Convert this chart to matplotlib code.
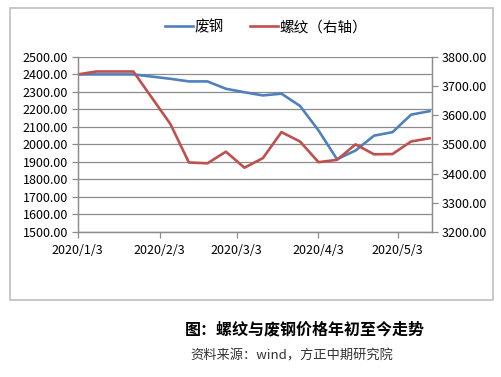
import numpy as np
import pandas as pd
import matplotlib
matplotlib.use("Agg")
import matplotlib.pyplot as plt
from matplotlib.patches import Rectangle

plt.rcParams['font.family'] = ['Noto Sans CJK SC', 'DejaVu Sans']

# weekly data (no point on 2020/1/31, holiday gap)
dates = ['2020-01-03', '2020-01-10', '2020-01-17', '2020-01-24', '2020-02-07',
         '2020-02-14', '2020-02-21', '2020-02-28', '2020-03-06', '2020-03-13',
         '2020-03-20', '2020-03-27', '2020-04-03', '2020-04-10', '2020-04-17',
         '2020-04-24', '2020-05-01', '2020-05-08', '2020-05-15']
scrap = [2400, 2400, 2400, 2400, 2375, 2360, 2360, 2318, 2298, 2280,
         2290, 2220, 2080, 1915, 1965, 2050, 2070, 2170, 2190]
rebar = [3740, 3750, 3750, 3750, 3570, 3438, 3435, 3475, 3420, 3453,
         3542, 3510, 3439, 3447, 3500, 3466, 3467, 3510, 3521]

tick_dates = ['2020-01-03', '2020-02-03', '2020-03-03', '2020-04-03', '2020-05-03']
tick_labels = ['2020/1/3', '2020/2/3', '2020/3/3', '2020/4/3', '2020/5/3']

x = pd.to_datetime(dates)
blue = '#4F81BD'
red = '#C0504D'
grey = '#8C8C8C'

fig = plt.figure(figsize=(5.02, 3.77), dpi=100)
fig.patches.append(Rectangle((0.02, 0.204), 0.962, 0.775, transform=fig.transFigure,
                             fill=False, edgecolor='#BFBFBF', linewidth=1.2))

ax = fig.add_axes([0.155, 0.385, 0.706, 0.464])
ax2 = ax.twinx()

l1, = ax.plot(x, scrap, color=blue, linewidth=1.9, label='废钢')
l2, = ax2.plot(x, rebar, color=red, linewidth=1.9, label='螺纹（右轴）')

ax.set_xlim(pd.Timestamp('2020-01-03'), pd.Timestamp('2020-05-16'))
ax.set_ylim(1500, 2500)
ax2.set_ylim(3200, 3800)
ax.set_yticks(np.arange(1500, 2501, 100))
ax2.set_yticks(np.arange(3200, 3801, 100))
ax.yaxis.set_major_formatter(matplotlib.ticker.FormatStrFormatter('%.2f'))
ax2.yaxis.set_major_formatter(matplotlib.ticker.FormatStrFormatter('%.2f'))
ax.set_xticks(pd.to_datetime(tick_dates))
ax.set_xticklabels(tick_labels)

ax.grid(axis='y', color=grey, linewidth=0.9)
ax.set_axisbelow(True)
for a in (ax, ax2):
    a.spines['top'].set_visible(False)
    for s in ('left', 'right', 'bottom'):
        a.spines[s].set_color(grey)
        a.spines[s].set_linewidth(0.9)
    a.tick_params(colors=grey, labelcolor='black', labelsize=9, length=4, width=0.9)
ax.tick_params(axis='x', pad=5)
ax.tick_params(axis='y', pad=3)
ax2.tick_params(axis='y', pad=3)

fig.legend([l1, l2], ['废钢', '螺纹（右轴）'], loc='center', bbox_to_anchor=(0.53, 0.928),
           ncol=2, frameon=False, fontsize=10.5, handlelength=1.9, handletextpad=0.1,
           columnspacing=1.8)

fig.text(0.608, 0.125, '图：螺纹与废钢价格年初至今走势', ha='center', va='center',
         fontsize=11.5, fontweight='bold')
fig.text(0.582, 0.055, '资料来源：wind，方正中期研究院', ha='center', va='center',
         fontsize=9.5, color='#333333')

fig.savefig('out.png', dpi=100)
